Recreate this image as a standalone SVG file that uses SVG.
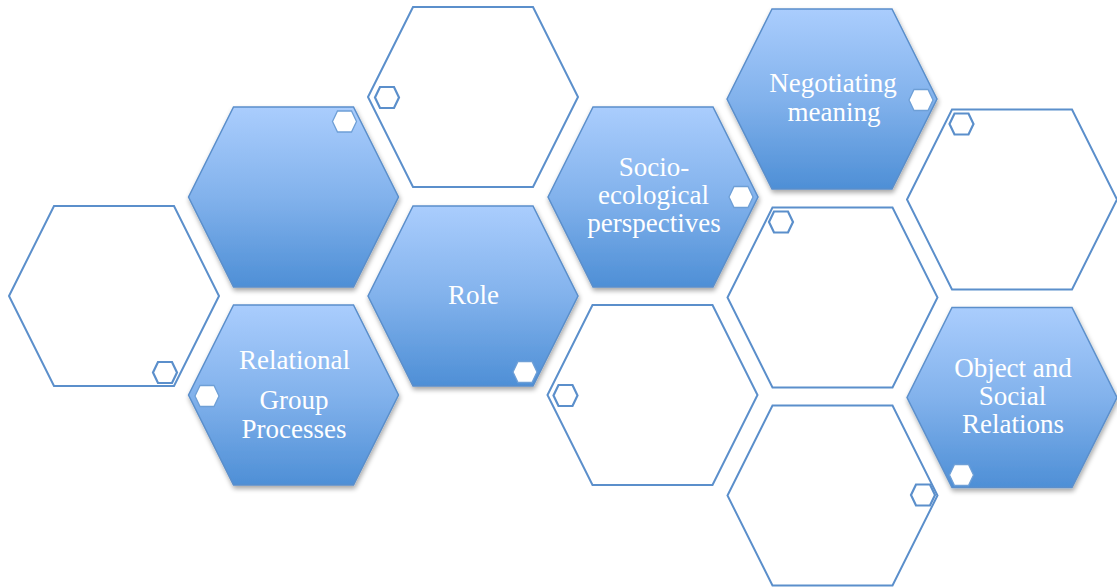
<svg xmlns="http://www.w3.org/2000/svg" width="1117" height="587" viewBox="0 0 1117 587">
  <defs>
    <linearGradient id="blueGrad" x1="0" y1="0" x2="0" y2="1">
      <stop offset="0" stop-color="#aacdfd"/>
      <stop offset="0.5" stop-color="#82b2ec"/>
      <stop offset="1" stop-color="#4e8fd6"/>
    </linearGradient>
    <filter id="shadow" x="-10%" y="-10%" width="125%" height="125%">
      <feGaussianBlur in="SourceAlpha" stdDeviation="2.5"/>
      <feOffset dx="1" dy="3" result="b"/>
      <feComponentTransfer><feFuncA type="linear" slope="0.35"/></feComponentTransfer>
      <feMerge><feMergeNode/><feMergeNode in="SourceGraphic"/></feMerge>
    </filter>
    <polygon id="hex" points="-105,0 -60,-90 60,-90 105,0 60,90 -60,90"/>
    <polygon id="mini" points="-12,0 -7,-10.5 7,-10.5 12,0 7,10.5 -7,10.5"/>
  </defs>
  <style>
    .outline { fill: #ffffff; stroke: #5b8fcb; stroke-width: 2; }
    .filled { fill: url(#blueGrad); stroke: #5b8fcb; stroke-width: 1.5; filter: url(#shadow); }
    .miniOut { fill: #ffffff; stroke: #5b8fcb; stroke-width: 2.2; }
    .miniIn { fill: #ffffff; stroke: #6e9fd6; stroke-width: 1.3; }
    .label { font-family: "Liberation Serif", "Times New Roman", serif; font-size: 27px; fill: #ffffff; text-anchor: middle; }
  </style>
  <rect width="1117" height="587" fill="#ffffff"/>

  <g id="connectors"></g>

  <g id="hex-outline-left">
    <use href="#hex" class="outline" transform="translate(114,296)"/>
    <use href="#mini" class="miniOut" transform="translate(165,372.5)"/>
  </g>
  <g id="hex-outline-top">
    <use href="#hex" class="outline" transform="translate(473,97)"/>
    <use href="#mini" class="miniOut" transform="translate(387,97.5)"/>
  </g>
  <g id="hex-outline-mid">
    <use href="#hex" class="outline" transform="translate(652.5,395)"/>
    <use href="#mini" class="miniOut" transform="translate(565.5,395.5)"/>
  </g>
  <g id="hex-outline-center">
    <use href="#hex" class="outline" transform="translate(832.5,297.5)"/>
    <use href="#mini" class="miniOut" transform="translate(781,222)"/>
  </g>
  <g id="hex-outline-bottom">
    <use href="#hex" class="outline" transform="translate(832.5,495.5)"/>
    <use href="#mini" class="miniOut" transform="translate(923,495)"/>
  </g>
  <g id="hex-outline-right">
    <use href="#hex" class="outline" transform="translate(1012,199.5)"/>
    <use href="#mini" class="miniOut" transform="translate(961.5,124)"/>
  </g>

  <g id="hex-blue-empty">
    <use href="#hex" class="filled" transform="translate(293.5,197)"/>
    <use href="#mini" class="miniIn" transform="translate(344.5,121.5)"/>
  </g>
  <g id="hex-relational">
    <use href="#hex" class="filled" transform="translate(293.5,395)"/>
    <use href="#mini" class="miniIn" transform="translate(207,396)"/>
    <text class="label" x="294.5" y="369">Relational</text>
    <text class="label" x="294" y="409">Group</text>
    <text class="label" x="294" y="438">Processes</text>
  </g>
  <g id="hex-role">
    <use href="#hex" class="filled" transform="translate(473,296)"/>
    <use href="#mini" class="miniIn" transform="translate(525,372)"/>
    <text class="label" x="473.5" y="304">Role</text>
  </g>
  <g id="hex-socio">
    <use href="#hex" class="filled" transform="translate(653,197)"/>
    <use href="#mini" class="miniIn" transform="translate(741,197)"/>
    <text class="label" x="654" y="176">Socio-</text>
    <text class="label" x="653.5" y="204">ecological</text>
    <text class="label" x="654" y="232">perspectives</text>
  </g>
  <g id="hex-negotiating">
    <use href="#hex" class="filled" transform="translate(832,99)"/>
    <use href="#mini" class="miniIn" transform="translate(921,100)"/>
    <text class="label" x="833" y="92">Negotiating</text>
    <text class="label" x="834" y="121">meaning</text>
  </g>
  <g id="hex-object">
    <use href="#hex" class="filled" transform="translate(1012,397.5)"/>
    <use href="#mini" class="miniIn" transform="translate(961.5,475)"/>
    <text class="label" x="1013" y="377">Object and</text>
    <text class="label" x="1012.5" y="405">Social</text>
    <text class="label" x="1013" y="433">Relations</text>
  </g>
</svg>
